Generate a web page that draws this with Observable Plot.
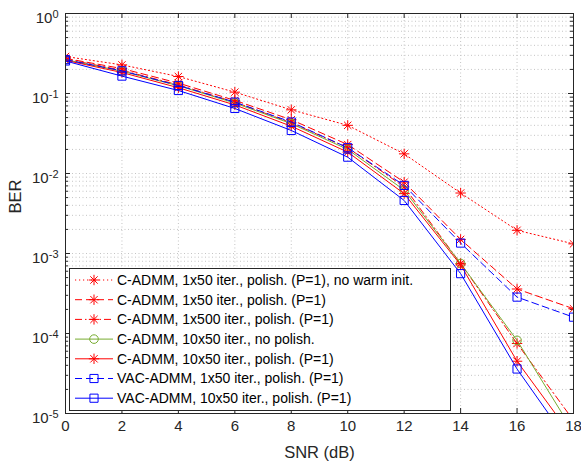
<!DOCTYPE html>
<html><head><meta charset="utf-8">
<script src="https://cdn.jsdelivr.net/npm/d3@7"></script>
<script src="https://cdn.jsdelivr.net/npm/@observablehq/plot@0.6"></script>
<style>body{margin:0;background:#fff}</style>
</head><body><div id="chart"></div>
<script>
// ---- data ----
const snr = [0, 2, 4, 6, 8, 10, 12, 14, 16, 18];
const berCadmm1x50NoWarm = [0.29, 0.228, 0.163, 0.104, 0.0625, 0.040, 0.0176, 0.0057, 0.00195, 0.00132];
const berCadmm1x50 = [0.275, 0.205, 0.135, 0.082, 0.047, 0.023, 0.0078, 0.0015, 0.00036, 0.000204];
const berCadmm1x500 = [0.27, 0.195, 0.128, 0.078, 0.043, 0.021, 0.0068, 0.00075, 0.000075, 0.0000082];
const berCadmm10x50NoPolish = [0.265, 0.19, 0.125, 0.076, 0.042, 0.020, 0.0062, 0.00075, 0.000082, 0.0000059];
const berCadmm10x50 = [0.26, 0.183, 0.118, 0.072, 0.039, 0.0185, 0.0056, 0.00072, 0.000045, 0.0000049];
const berVac1x50 = [0.265, 0.192, 0.126, 0.078, 0.044, 0.021, 0.0071, 0.00135, 0.000285, 0.00016];
const berVac10x50 = [0.255, 0.165, 0.109, 0.065, 0.0345, 0.016, 0.0046, 0.00056, 0.000036, 0.0000036];
const seriesNames = [
  "C-ADMM, 1x50 iter., polish. (P=1), no warm init.",
  "C-ADMM, 1x50 iter., polish. (P=1)",
  "C-ADMM, 1x500 iter., polish. (P=1)",
  "C-ADMM, 10x50 iter., no polish.",
  "C-ADMM, 10x50 iter., polish. (P=1)",
  "VAC-ADMM, 1x50 iter., polish. (P=1)",
  "VAC-ADMM, 10x50 iter., polish. (P=1)"
];
const xTicks = [0, 2, 4, 6, 8, 10, 12, 14, 16, 18];
const yTicks = [1e-5, 1e-4, 1e-3, 1e-2, 1e-1, 1];
const xLabel = "SNR (dB)";
const yLabel = "BER";

// ---- styles ----
const asterisk8 = {draw(ctx, size) {
  const r = Math.sqrt(size / Math.PI), d = r * Math.SQRT1_2;
  ctx.moveTo(-r, 0); ctx.lineTo(r, 0);
  ctx.moveTo(0, -r); ctx.lineTo(0, r);
  ctx.moveTo(-d, -d); ctx.lineTo(d, d);
  ctx.moveTo(-d, d); ctx.lineTo(d, -d);
}};
const RED = "#ff0000", GREEN = "#77ac30", BLUE = "#0000ff";
const seriesValues = [berCadmm1x50NoWarm, berCadmm1x50, berCadmm1x500, berCadmm10x50NoPolish, berCadmm10x50, berVac1x50, berVac10x50];
const styles = [
  {color: RED, dash: "1.2,2.8", symbol: asterisk8, r: 5.2},
  {color: RED, dash: "7,4", symbol: asterisk8, r: 5.2},
  {color: RED, dash: "7,3,1.5,3", symbol: asterisk8, r: 5.2},
  {color: GREEN, dash: null, symbol: "circle", r: 4.3},
  {color: RED, dash: null, symbol: asterisk8, r: 5.2},
  {color: BLUE, dash: "7,4", symbol: "square", r: 4.6},
  {color: BLUE, dash: null, symbol: "square", r: 4.6}
];

const W = 581, H = 466, mL = 65, mR = 8, mT = 13, mB = 53;
const fw = W - mL - mR, fh = H - mT - mB;
const minorY = d3.scaleLog().domain([1e-5, 1]).ticks();

const seriesMarks = seriesValues.flatMap((vals, i) => {
  const rows = snr.map((x, j) => ({snr: x, ber: vals[j]}));
  const s = styles[i];
  return [
    Plot.line(rows, {x: "snr", y: "ber", stroke: s.color, strokeWidth: 1, strokeDasharray: s.dash, clip: true}),
    Plot.dot(rows.filter(d => d.ber >= 1e-5), {x: "snr", y: "ber", symbol: s.symbol, r: s.r, stroke: s.color, fill: "none", strokeWidth: 1, clip: true})
  ];
});

const chart = Plot.plot({
  width: W, height: H,
  marginLeft: mL, marginRight: mR, marginTop: mT, marginBottom: mB,
  x: {domain: [0, 18]},
  y: {type: "log", domain: [1e-5, 1]},
  style: {fontFamily: "'Liberation Sans', Arial, sans-serif", background: "#fff", overflow: "visible"},
  marks: [
    Plot.ruleY(minorY, {y: d => d, stroke: "#c4c4c4", strokeDasharray: "1,2.5"}),
    Plot.ruleX(xTicks, {x: d => d, stroke: "#c4c4c4", strokeDasharray: "1,2.5"}),
    // inward ticks
    Plot.ruleX(xTicks, {x: d => d, insetTop: fh - 5, stroke: "#262626"}),
    Plot.ruleX(xTicks, {x: d => d, insetBottom: fh - 5, stroke: "#262626"}),
    Plot.ruleY(yTicks, {y: d => d, insetRight: fw - 5, stroke: "#262626"}),
    Plot.ruleY(yTicks, {y: d => d, insetLeft: fw - 5, stroke: "#262626"}),
    Plot.ruleY(minorY, {y: d => d, insetRight: fw - 3, stroke: "#262626"}),
    Plot.ruleY(minorY, {y: d => d, insetLeft: fw - 3, stroke: "#262626"}),
    ...seriesMarks,
    Plot.frame({stroke: "#262626", strokeWidth: 1}),
    Plot.axisX({ticks: xTicks, tickSize: 0, tickPadding: 7, fontSize: 15, fill: "#262626", label: null, tickFormat: d => String(d)}),
    Plot.axisY({ticks: yTicks, tickSize: 0, tickPadding: 7, fontSize: 15, fill: "#262626", label: null, dy: 5, tickFormat: d => String(Math.round(Math.log10(d)))}),
    Plot.text([xLabel], {frameAnchor: "bottom", dy: 39, lineAnchor: "middle", fontSize: 16.5, fill: "#262626"}),
    Plot.text([yLabel], {frameAnchor: "left", dx: -50, rotate: -90, lineAnchor: "middle", fontSize: 16.5, fill: "#262626"})
  ]
});
document.getElementById("chart").appendChild(chart);

// superscript exponents on y tick labels
const NS = "http://www.w3.org/2000/svg";
chart.querySelectorAll('g[aria-label="y-axis tick label"] text').forEach(t => {
  const e = t.textContent;
  t.textContent = "";
  const b = document.createElementNS(NS, "tspan"); b.textContent = "10";
  const s = document.createElementNS(NS, "tspan"); s.textContent = e;
  s.setAttribute("dy", "-0.5em"); s.setAttribute("font-size", "11");
  t.appendChild(b); t.appendChild(s);
});

// legend
const svg = d3.select(chart);
const lg = svg.append("g").attr("font-family", "'Liberation Sans', Arial, sans-serif").attr("font-size", 14).attr("text-anchor", "start");
const bx = 69, by = 268, bw = 381, bh = 142;
lg.append("rect").attr("x", bx + 0.5).attr("y", by + 0.5).attr("width", bw).attr("height", bh).attr("fill", "#fff").attr("stroke", "#262626");
seriesNames.forEach((name, i) => {
  const s = styles[i];
  const cy = 280 + i * 19.7;
  lg.append("line").attr("x1", 75).attr("x2", 113).attr("y1", cy).attr("y2", cy)
    .attr("stroke", s.color).attr("stroke-dasharray", s.dash).attr("stroke-width", 1);
  const sym = typeof s.symbol === "string" ? (s.symbol === "circle" ? d3.symbolCircle : d3.symbolSquare) : s.symbol;
  lg.append("path").attr("transform", `translate(94,${cy})`).attr("d", d3.symbol(sym, s.r * s.r * Math.PI)())
    .attr("fill", "none").attr("stroke", s.color).attr("stroke-width", 1);
  lg.append("text").attr("x", 117).attr("y", cy).attr("dy", "0.35em").attr("text-anchor", "start").attr("fill", "#000").text(name);
});
</script>
</body></html>
